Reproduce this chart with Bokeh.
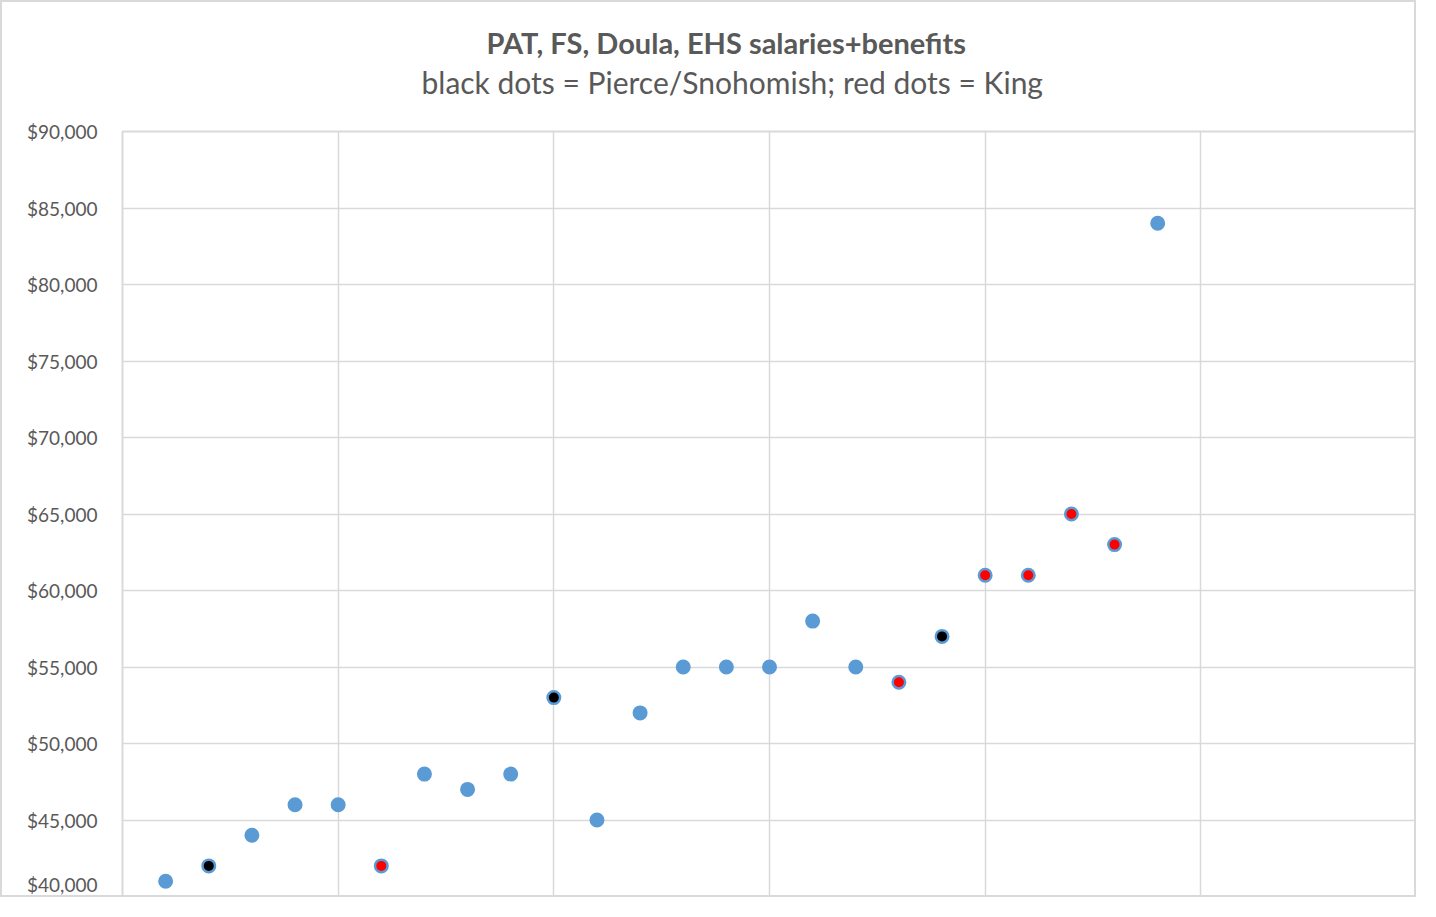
from bokeh.plotting import figure
from bokeh.models import FixedTicker, NumeralTickFormatter, Title, ColumnDataSource, Range1d
from bokeh.embed import file_html
from bokeh.resources import INLINE

# ---- data ----
position = list(range(1, 25))
salary = [41000, 42000, 44000, 46000, 46000, 42000, 48000, 47000, 48000, 53000, 45000, 52000,
          55000, 55000, 55000, 58000, 55000, 54000, 57000, 61000, 61000, 65000, 63000, 84000]
county = ["Other", "Pierce/Snohomish", "Other", "Other", "Other", "King", "Other", "Other",
          "Other", "Pierce/Snohomish", "Other", "Other", "Other", "Other", "Other", "Other",
          "Other", "King", "Pierce/Snohomish", "King", "King", "King", "King", "Other"]
y_ticks = [40000, 45000, 50000, 55000, 60000, 65000, 70000, 75000, 80000, 85000, 90000]
x_grid = [0, 5, 10, 15, 20, 25, 30]
title_text = "PAT, FS, Doula, EHS salaries+benefits"
subtitle_text = "black dots = Pierce/Snohomish;  red dots = King"

# ---- styling ----
BLUE = "#5B9BD5"
GRID = "#D9D9D9"
TEXT = "#595959"
FONT = "Lato"
color_map = {"Other": BLUE, "Pierce/Snohomish": "#000000", "King": "#FF0000"}

src = ColumnDataSource(dict(x=position, y=salary, county=county,
                            fill=[color_map[c] for c in county]))

p = figure(width=1416, height=897, output_backend="svg", toolbar_location=None,
           x_range=Range1d(0, 30), y_range=Range1d(40000, 90000),
           min_border_left=120, min_border_right=2, min_border_top=129, min_border_bottom=3)
p.title = None
p.styles = {"border": "2px solid #D9D9D9"}

p.add_layout(Title(text=subtitle_text, align="left", offset=299, text_font=FONT,
                   text_font_size="30px", text_font_style="normal", text_color=TEXT,
                   standoff=63), "above")
p.add_layout(Title(text=title_text, align="left", offset=364, text_font=FONT,
                   text_font_size="29px", text_font_style="bold", text_color=TEXT,
                   standoff=-58), "above")

p.xaxis.visible = False
p.xgrid.ticker = FixedTicker(ticks=x_grid)
p.xgrid.grid_line_color = GRID
p.xgrid.grid_line_width = 1.5

p.yaxis.ticker = FixedTicker(ticks=y_ticks)
p.yaxis.formatter = NumeralTickFormatter(format="$0,0")
p.yaxis.axis_line_color = None
p.yaxis.major_tick_line_color = None
p.yaxis.minor_tick_line_color = None
p.yaxis.major_label_text_font = FONT
p.yaxis.major_label_text_font_size = "19px"
p.yaxis.major_label_text_color = TEXT
p.yaxis.major_label_standoff = 19
p.ygrid.grid_line_color = GRID
p.ygrid.grid_line_width = 1.5

p.outline_line_color = GRID
p.outline_line_width = 2

p.scatter("x", "y", source=src, size=12.5, fill_color="fill", line_color=BLUE, line_width=2.5)

open("out.html", "w").write(file_html(p, INLINE))
